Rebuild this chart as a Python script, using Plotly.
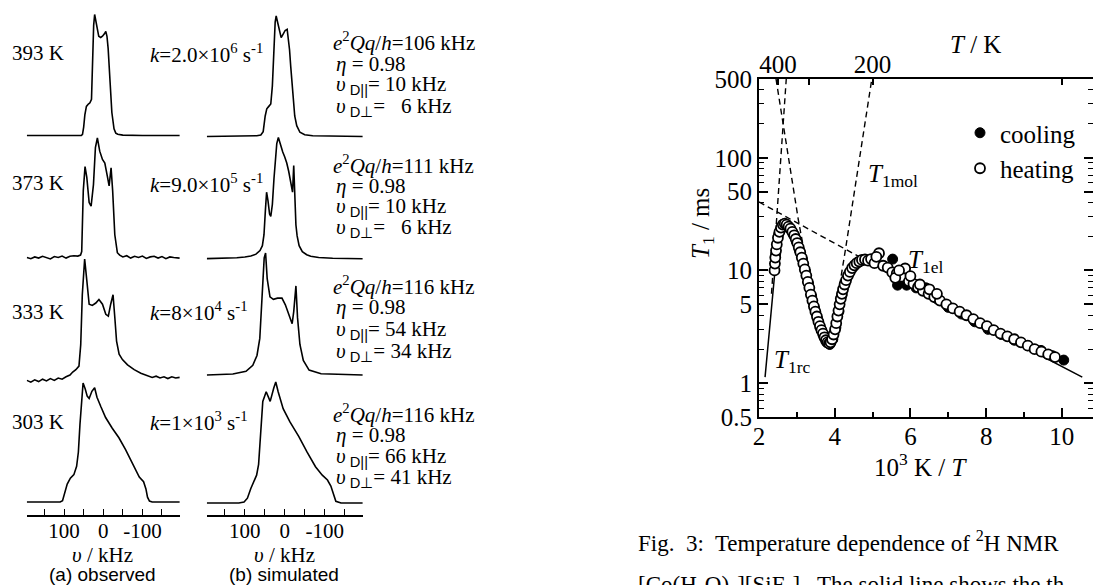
import math
import plotly.graph_objects as go

W, H = 1093, 585
SERIF = "Liberation Serif"
SANS = "Liberation Sans"


def PX(p):
    return p / W


def PY(p):
    return 1 - p / H


# ---------------- (a) observed / (b) simulated 2H NMR spectra ----------------
# frequency in kHz, intensity normalised to the highest peak of each spectrum
obs393_f = [195, 100, 56, 53, 50, 47, 43, 38, 34, 30, 27, 24.5, 22, 19, 16.5, 11.5, 6.5, 2, -3, -6.5,
            -9.5, -12.5, -17.5, -22, -27.5, -32, -37, -50, -100, -195]
obs393_i = [0, 0, 0, 0.01, 0.07, 0.17, 0.24, 0.26, 0.27, 0.3, 0.66, 0.91, 1.0, 0.95, 0.88, 0.82, 0.81, 0.82, 0.84, 0.86,
            0.82, 0.72, 0.44, 0.19, 0.055, 0.02, 0.01, 0.003, 0, 0]

sim393_f = [195, 100, 70, 60, 54, 49, 45, 40, 35, 31, 27, 24, 21.5, 18, 14, 9, 4, -1, -6, -9,
            -12, -15, -20, -25, -30, -38, -50, -70, -195]
sim393_i = [0, 0.002, 0.006, 0.012, 0.04, 0.17, 0.23, 0.25, 0.27, 0.42, 0.76, 0.95, 1.0, 0.95, 0.88, 0.82, 0.85, 0.88, 0.89, 0.82,
            0.72, 0.58, 0.33, 0.17, 0.09, 0.035, 0.015, 0.006, 0]

obs373_f = [195, 185, 175, 165, 155, 145, 135, 125, 115, 105, 95, 85, 75, 65, 58, 55, 51, 46.5, 42, 36,
            31, 25, 20, 15, 9, 2, -4, -11, -15, -20, -24, -29.5, -36, -42, -50, -60, -70, -80, -90, -100,
            -110, -120, -130, -140, -150, -160, -170, -180, -195]
obs373_i = [0.0, -0.01, 0.005, -0.005, 0.01, 0.0, -0.012, 0.008, 0.0, 0.012, -0.005, 0.01, 0.015, 0.012, 0.02, 0.05, 0.56, 0.76, 0.67, 0.46,
            0.43, 0.61, 0.92, 1.0, 0.89, 0.82, 0.79, 0.67, 0.60, 0.75, 0.56, 0.19, 0.04, 0.02, 0.005, 0.015, -0.005, 0.01, 0.0, 0.012,
            -0.008, 0.005, 0.01, -0.005, 0.008, -0.01, 0.005, 0.0, -0.005]

sim373_f = [195, 150, 120, 100, 85, 72, 62, 56, 52, 48.5, 45.5, 42, 38, 35, 31, 27, 24, 20, 16, 11,
            5, 0, -5, -10, -14, -17, -19.5, -22.5, -25, -28, -31, -36, -44, -55, -65, -85, -120, -195]
sim373_i = [0.003, 0.006, 0.01, 0.016, 0.025, 0.04, 0.07, 0.11, 0.2, 0.4, 0.55, 0.48, 0.37, 0.35, 0.45, 0.66, 0.8, 0.95, 1.0, 0.94,
            0.88, 0.84, 0.79, 0.72, 0.65, 0.6, 0.55, 0.77, 0.45, 0.28, 0.19, 0.11, 0.06, 0.035, 0.022, 0.012, 0.006, 0.002]

obs333_f = [195, 185, 175, 165, 155, 145, 135, 125, 115, 105, 95, 85, 78, 70, 62, 57.5, 53.5, 47.5, 42, 36,
            28, 19, 11, 2, -6.5, -13, -19, -25, -29.5, -34, -40.5, -49, -62, -79, -96, -113, -125, -135, -145, -155,
            -165, -175, -185, -195]
obs333_i = [-0.02, -0.035, -0.015, -0.03, -0.01, -0.025, -0.005, -0.02, 0.0, -0.01, 0.01, 0.025, 0.05, 0.07, 0.1, 0.28, 0.7, 1.0, 0.82, 0.62,
            0.61, 0.63, 0.66, 0.62, 0.535, 0.52, 0.62, 0.70, 0.51, 0.31, 0.2, 0.155, 0.11, 0.07, 0.04, 0.02, 0.005, 0.015, 0.0, 0.01,
            -0.005, 0.01, 0.0, 0.005]

sim333_f = [195, 130, 97, 80, 69.5, 62.5, 56.5, 51.5, 48, 44, 37, 28.5, 18, 7, -1.5, -10, -18.5, -22.5, -28, -32,
            -38, -46.5, -61, -91, -130, -195]
sim333_i = [0.0, 0.008, 0.03, 0.08, 0.16, 0.3, 0.66, 0.96, 1.0, 0.79, 0.64, 0.62, 0.63, 0.63, 0.575, 0.49, 0.42, 0.52, 0.73, 0.47,
            0.25, 0.12, 0.04, 0.01, 0.004, 0.0]

obs303_f = [195, 150, 110, 104, 99, 92, 84, 75, 68, 63.5, 59.5, 55, 51.5, 46, 41, 36, 29, 22, 16, 6,
            -6, -23, -40, -57, -75, -92, -103, -109, -113, -118, -125, -160, -195]
obs303_i = [0, 0, 0, 0.01, 0.07, 0.15, 0.2, 0.23, 0.3, 0.42, 0.65, 0.9, 1.0, 0.95, 0.89, 0.87, 0.93, 0.96, 0.88, 0.8,
            0.71, 0.62, 0.54, 0.44, 0.32, 0.21, 0.17, 0.11, 0.04, 0.008, 0, 0, 0]

sim303_f = [195, 140, 115, 102, 93.5, 85, 76.5, 70.5, 65.5, 61, 55, 46.5, 36.5, 27.5, 22.5, 16.5, 4, -13, -35, -56,
            -77, -94, -107, -115.5, -121.5, -128, -141, -195]
sim303_i = [0, 0, 0, 0.008, 0.04, 0.12, 0.19, 0.23, 0.32, 0.59, 0.84, 0.92, 0.84, 0.95, 1.0, 0.92, 0.78, 0.67, 0.55, 0.42,
            0.30, 0.23, 0.19, 0.14, 0.07, 0.014, 0, 0]

temps = ["393 K", "373 K", "333 K", "303 K"]
rates = ["2.0×10<sup>6</sup>", "9.0×10<sup>5</sup>", "8×10<sup>4</sup>", "1×10<sup>3</sup>"]
qcc = ["106", "111", "116", "116"]
eta = ["0.98", "0.98", "0.98", "0.98"]
nu_par = ["10", "10", "54", "66"]
nu_perp = ["\u00a0\u00a06", "\u00a0\u00a06", "34", "41"]
spec_ticks = [150, 100, 50, 0, -50, -100, -150]
spec_ticktext = ["", "100", "", "0", "", "-100", ""]

# ---------------- T1 vs 1000/T ----------------
heat_x = [2.41, 2.42, 2.43, 2.45, 2.47, 2.50, 2.54, 2.58, 2.63, 2.68,
          2.73, 2.78, 2.83, 2.88, 2.93, 2.97, 3.01, 3.05, 3.09, 3.13,
          3.17, 3.21, 3.25, 3.29, 3.33, 3.37, 3.41, 3.45, 3.49, 3.53,
          3.57, 3.61, 3.65, 3.69, 3.73, 3.77, 3.81, 3.85, 3.89, 3.93,
          3.97, 4.01, 4.04, 4.07, 4.10, 4.13, 4.16, 4.19, 4.22, 4.26,
          4.30, 4.35, 4.40, 4.46, 4.52, 4.58, 4.65, 4.72, 4.80, 4.88,
          4.96, 5.05, 5.17, 5.28, 5.40, 5.52, 5.64, 5.76, 5.86, 5.96,
          6.08, 6.20, 6.33, 6.48, 6.63, 6.78, 6.95, 7.12, 7.30, 7.48,
          7.66, 7.84, 8.02, 8.20, 8.38, 8.56, 8.74, 8.92, 9.10, 9.28,
          9.46, 9.64, 9.82, 5.10, 5.60, 5.70, 6.00, 6.25, 6.50, 6.70]
heat_T1 = [10.0, 11.5, 13.0, 15.0, 17.0, 19.5, 22.0, 24.0, 25.5, 26.0,
           25.5, 24.5, 23.5, 22.0, 20.5, 19.0, 17.5, 16.0, 14.5, 13.0,
           11.5, 10.2, 9.0, 7.9, 7.0, 6.1, 5.4, 4.8, 4.3, 3.9,
           3.5, 3.2, 2.95, 2.75, 2.55, 2.4, 2.3, 2.25, 2.3, 2.45,
           2.7, 3.0, 3.4, 3.9, 4.4, 5.0, 5.6, 6.2, 6.8, 7.5,
           8.2, 9.0, 9.7, 10.5, 11.1, 11.6, 12.0, 12.4, 12.5, 12.2,
           12.6, 11.6, 14.2, 11.0, 10.6, 9.6, 9.4, 8.8, 10.4, 8.0,
           7.6, 7.1, 6.6, 6.2, 5.8, 5.4, 5.0, 4.6, 4.3, 4.0,
           3.7, 3.4, 3.2, 2.95, 2.75, 2.6, 2.45, 2.3, 2.15, 2.0,
           1.9, 1.8, 1.7, 13.2, 8.6, 10.0, 8.9, 7.5, 6.8, 6.2]

cool_x = [2.44, 2.52, 2.62, 2.71, 2.80, 2.90, 2.99, 3.07, 3.15, 3.23,
          3.31, 3.39, 3.47, 3.55, 3.63, 3.71, 3.79, 3.87, 3.95, 4.03,
          4.11, 4.19, 4.28, 4.38, 4.50, 4.62, 4.75, 4.90, 5.05, 5.53,
          5.66, 5.90, 6.15, 6.41, 6.70, 7.00, 7.35, 7.70, 8.05, 8.40,
          8.75, 9.10, 9.45, 9.75, 10.05]
cool_T1 = [14.0, 21.0, 24.5, 25.0, 23.5, 21.0, 18.0, 15.0, 12.5, 9.8,
           7.6, 5.9, 4.6, 3.7, 3.05, 2.6, 2.3, 2.2, 2.45, 3.1,
           4.3, 6.0, 7.8, 9.4, 10.8, 11.8, 12.3, 12.4, 12.2, 12.6,
           7.4, 7.4, 7.0, 7.0, 5.6, 4.7, 4.1, 3.5, 3.0, 2.7,
           2.4, 2.15, 1.95, 1.75, 1.6]

fit_x = [2.16, 2.30, 2.42, 2.50, 2.60, 2.70, 2.80, 2.95, 3.10, 3.30, 3.50, 3.70, 3.85,
         4.00, 4.15, 4.30, 4.50, 4.70, 4.90, 5.20, 6.00, 7.00, 8.00, 9.00, 10.00, 10.54]
fit_T1 = [1.13, 3.6, 10.0, 19.0, 24.0, 25.5, 24.5, 21.0, 15.5, 8.0, 4.3, 2.7, 2.3,
          2.8, 4.8, 8.0, 10.7, 12.2, 12.5, 11.5, 7.6, 4.9, 3.2, 2.1, 1.4, 1.13]

t1el_x = [2.0, 4.8]
t1el_T1 = [40.5, 12.4]
t1rc_x = [2.33, 2.72]
t1rc_T1 = [6.2, 500]
t1mol_x = [2.45, 3.04, 3.40, 3.70, 3.85, 4.00, 4.15, 4.29, 4.98]
t1mol_T1 = [500, 28, 6.2, 2.9, 2.5, 3.5, 8.1, 15.8, 500]

x_ticks = [2, 4, 6, 8, 10]
x_minor = [3, 5, 7, 9]
y_ticks = [0.5, 1, 5, 10, 50, 100, 500]
y_labels = ["0.5", "1", "5", "10", "50", "100", "500"]
y_minor = [0.6, 0.7, 0.8, 0.9, 2, 3, 4, 6, 7, 8, 9, 20, 30, 40, 60, 70, 80, 90, 200, 300, 400]
top_T = [400, 300, 200, 100]
top_labels = ["400", "", "200", ""]

fig = go.Figure()

# ---- T1 plot traces ----
fig.add_trace(go.Scatter(x=fit_x, y=fit_T1, mode="lines", line=dict(color="black", width=1.5),
                         showlegend=False, hoverinfo="skip"))
for xs, ys in [(t1el_x, t1el_T1), (t1rc_x, t1rc_T1), (t1mol_x, t1mol_T1)]:
    fig.add_trace(go.Scatter(x=xs, y=ys, mode="lines",
                             line=dict(color="black", width=1.4, dash="6px,4px"),
                             showlegend=False, hoverinfo="skip"))
fig.add_trace(go.Scatter(x=cool_x, y=cool_T1, mode="markers", name="cooling",
                         marker=dict(symbol="circle", size=10, color="black",
                                     line=dict(color="black", width=1))))
fig.add_trace(go.Scatter(x=heat_x, y=heat_T1, mode="markers", name="heating",
                         marker=dict(symbol="circle", size=10, color="white",
                                     line=dict(color="black", width=1.8))))
fig.add_trace(go.Scatter(x=[], y=[], xaxis="x2", yaxis="y", showlegend=False, hoverinfo="skip"))

layout = dict(
    width=W, height=H, autosize=False,
    margin=dict(l=0, r=0, t=0, b=0, pad=0, autoexpand=False),
    paper_bgcolor="white", plot_bgcolor="rgba(0,0,0,0)",
    font=dict(family=SERIF, size=25, color="black"),
    showlegend=True,
    legend=dict(x=PX(960), y=PY(110), xanchor="left", yanchor="top",
                font=dict(family=SERIF, size=25, color="black"),
                bgcolor="rgba(0,0,0,0)", borderwidth=0, itemwidth=30, tracegroupgap=0),
    xaxis=dict(domain=[PX(759), PX(1092.5)], range=[2, 10.81], anchor="y",
               showline=True, linecolor="black", linewidth=2, mirror=True,
               ticks="inside", ticklen=9, tickwidth=1.5, tickcolor="black",
               tickmode="array", tickvals=x_ticks, ticktext=[str(v) for v in x_ticks],
               minor=dict(ticks="inside", ticklen=5, tickwidth=1.5, tickcolor="black",
                          tickvals=x_minor, showgrid=False),
               ticklabelstandoff=-4,
               showgrid=False, zeroline=False, tickfont=dict(family=SERIF, size=25)),
    xaxis2=dict(overlaying="x", side="top", anchor="y", range=[2, 10.81],
                tickmode="array", tickvals=[1000 / t for t in top_T], ticktext=top_labels,
                ticks="inside", ticklen=6, tickwidth=1.5, tickcolor="black",
                showline=False, showgrid=False, zeroline=False,
                tickfont=dict(family=SERIF, size=25)),
    yaxis=dict(domain=[PY(417), PY(79)], type="log",
               range=[math.log10(0.5), math.log10(500)], anchor="x",
               showline=True, linecolor="black", linewidth=2, mirror="ticks",
               ticks="inside", ticklen=9, tickwidth=1.5, tickcolor="black",
               tickmode="array", tickvals=y_ticks, ticktext=y_labels,
               minor=dict(ticks="inside", ticklen=5, tickwidth=1.2, tickcolor="black",
                          tickvals=y_minor, showgrid=False),
               showgrid=False, zeroline=False, tickfont=dict(family=SERIF, size=25)),
)

# ---- spectra subplots ----
spectra = [
    (obs393_f, obs393_i, "a", 135.5, 14.5), (sim393_f, sim393_i, "b", 136.5, 16),
    (obs373_f, obs373_i, "a", 257.5, 138), (sim373_f, sim373_i, "b", 259, 137.5),
    (obs333_f, obs333_i, "a", 378, 259), (sim333_f, sim333_i, "b", 375, 253),
    (obs303_f, obs303_i, "a", 502, 383), (sim303_f, sim303_i, "b", 503, 382),
]
col_dom = {"a": (26.5, 180), "b": (206.5, 363)}
pad = 0.06
for n, (f, inten, col, base, top) in enumerate(spectra):
    k = n + 3
    h = base - top
    fig.add_trace(go.Scatter(x=f, y=inten, mode="lines", line=dict(color="black", width=1.6),
                             xaxis=f"x{k}", yaxis=f"y{k}", showlegend=False, hoverinfo="skip"))
    x0, x1 = col_dom[col]
    bottom_row = n >= 6
    xa = dict(domain=[PX(x0), PX(x1)], range=[196, -196], showgrid=False, zeroline=False)
    if bottom_row:
        xa.update(anchor="free", position=PY(515.7), visible=True, showline=True,
                  linecolor="black", linewidth=1.5, ticks="inside", ticklen=6, tickwidth=1.3,
                  tickcolor="black", tickmode="array", tickvals=spec_ticks, ticktext=spec_ticktext,
                  ticklabelstandoff=-4,
                  tickfont=dict(family=SERIF, size=21))
    else:
        xa.update(anchor=f"y{k}", visible=False)
    layout[f"xaxis{k}"] = xa
    layout[f"yaxis{k}"] = dict(domain=[PY(base + pad * h), PY(top - pad * h)],
                               range=[-pad, 1 + pad], anchor=f"x{k}", visible=False,
                               showgrid=False, zeroline=False)

fig.update_layout(**layout)

# ---- annotations ----
ann = []


def add(text, x, y, size, xanchor="left", yanchor="middle", family=SERIF, angle=0):
    ann.append(dict(text=text, x=PX(x), y=PY(y), xref="paper", yref="paper",
                    xanchor=xanchor, yanchor=yanchor, showarrow=False, textangle=angle,
                    font=dict(family=family, size=size, color="black")))


row_mid = [53, 183, 311.5, 421.5]
row_lines = [[42, 63.5, 85, 107], [164, 185.5, 207, 228.5],
             [285, 307, 330, 352], [413.3, 435, 456.7, 478.3]]
sub_style = f"<span style='font-family:{SANS}'>"
for r in range(4):
    add(temps[r], 10, row_mid[r], 21)
    add(f"<i>k</i>={rates[r]} s<sup>-1</sup>", 148, row_mid[r], 21)
    ly = row_lines[r]
    add(f"<i>e</i><sup>2</sup><i>Qq</i>/<i>h</i>={qcc[r]} kHz", 331, ly[0], 21)
    add(f"<i>η</i> = {eta[r]}", 334, ly[1], 21)
    add(f"<i>υ</i><sub>{sub_style} D||</span></sub>= {nu_par[r]} kHz", 334, ly[2], 21)
    add(f"<i>υ</i><sub>{sub_style} D⊥</span></sub>= {nu_perp[r]} kHz", 334, ly[3], 21)

add("<i>υ</i> / kHz", 102, 555, 21, xanchor="center")
add("<i>υ</i> / kHz", 284, 555, 21, xanchor="center")
add("(a) observed", 102, 574, 19, xanchor="center", family=SANS)
add("(b) simulated", 284, 574, 19, xanchor="center", family=SANS)

add("<i>T</i> / K", 975, 45, 25, xanchor="center")
add("10<sup>3</sup> K / <i>T</i>", 921, 465, 25, xanchor="center")
add("<i>T</i><sub>1</sub> / ms", 703, 224, 25, xanchor="center", angle=-90)
add("<i>T</i><sub>1mol</sub>", 866, 175, 25)
add("<i>T</i><sub>1el</sub>", 906, 261, 25)
add("<i>T</i><sub>1rc</sub>", 772, 361, 25)

add("Fig.  3:  Temperature dependence of <sup>2</sup>H NMR", 636, 541, 23)
add("[Co(H<sub>2</sub>O)<sub>6</sub>][SiF<sub>6</sub>].  The solid line shows the th", 636, 586, 23)

fig.update_layout(annotations=ann)

fig.write_html("out.html", config={"displayModeBar": False},
               post_script="document.body.style.margin='0px';document.body.style.padding='0px';")
